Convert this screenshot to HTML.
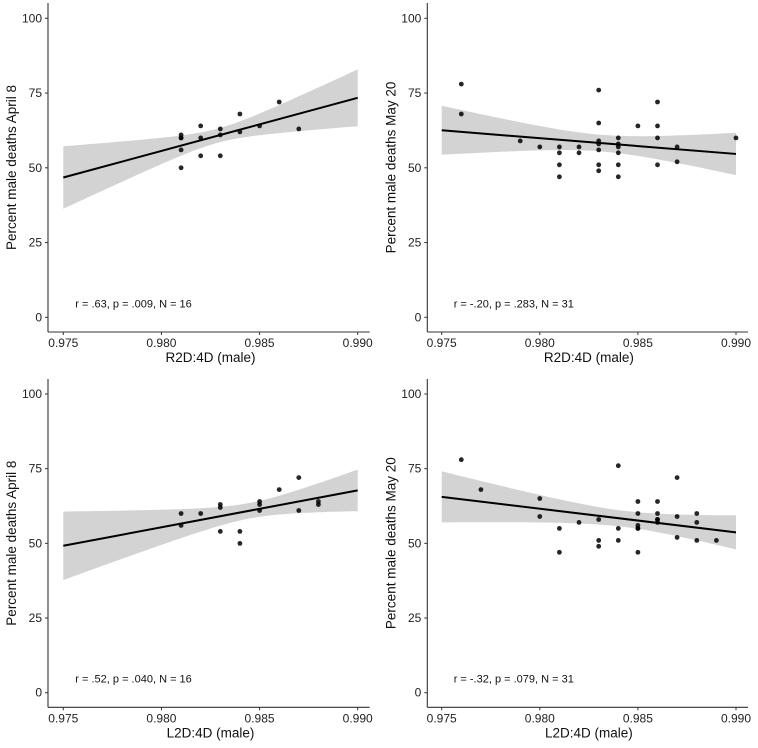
<!DOCTYPE html>
<html><head><meta charset="utf-8"><style>
html,body{margin:0;padding:0;background:#fff;}
svg{display:block;font-family:"Liberation Sans",Arial,sans-serif;}
</style></head><body>
<svg id="chart" width="758" height="748" viewBox="0 0 758 748"></svg>
<script>
const yTicks = [0, 25, 50, 75, 100];
const xTicks = [0.975, 0.980, 0.985, 0.990];
const xTickLabels = ["0.975", "0.980", "0.985", "0.990"];

const tlX = [0.981,0.981,0.981,0.981,0.982,0.982,0.982,0.983,0.983,0.983,0.984,0.984,0.985,0.986,0.987,0.981];
const tlY = [61,60,56,50,64,60,54,63,61,54,68,62,64,72,63,60];

const trX = [0.976,0.976,0.979,0.980,0.981,0.981,0.981,0.981,0.982,0.982,0.983,0.983,0.983,0.983,0.983,0.983,0.984,0.984,0.984,0.984,0.984,0.985,0.986,0.986,0.986,0.986,0.987,0.987,0.990,0.983,0.984];
const trY = [78,68,59,57,57,55,51,47,57,55,76,65,59,56,51,49,60,58,55,51,47,64,72,64,60,51,57,52,60,58,57];

const blX = [0.981,0.981,0.982,0.983,0.983,0.983,0.984,0.984,0.985,0.985,0.985,0.986,0.987,0.987,0.988,0.988];
const blY = [60,56,60,63,62,54,54,50,64,63,61,68,72,61,64,63];

const brX = [0.976,0.977,0.980,0.980,0.981,0.981,0.982,0.983,0.983,0.983,0.984,0.984,0.984,0.985,0.985,0.985,0.985,0.985,0.985,0.986,0.986,0.986,0.986,0.986,0.987,0.987,0.987,0.988,0.988,0.988,0.989];
const brY = [78,68,65,59,55,47,57,58,51,49,76,55,51,64,60,56,55,55,47,64,60,58,57,58,72,59,52,60,57,51,51];

const panels = [
  {name:"april8-right", xs:tlX, ys:tlY, axX:48, top:3, x0:63.3, x1:357.7, y100:18.3, y0:317.3, axisY:332, xt:"R2D:4D (male)", yt:"Percent male deaths April 8", ann:"r = .63, p = .009, N = 16", t:2.145},
  {name:"may20-right", xs:trX, ys:trY, axX:427.3, top:3, x0:441.7, x1:736, y100:18.3, y0:317.3, axisY:332, xt:"R2D:4D (male)", yt:"Percent male deaths May 20", ann:"r = -.20, p = .283, N = 31", t:2.045},
  {name:"april8-left", xs:blX, ys:blY, axX:48, top:379, x0:63.3, x1:357.7, y100:394, y0:692.7, axisY:707.3, xt:"L2D:4D (male)", yt:"Percent male deaths April 8", ann:"r = .52, p = .040, N = 16", t:2.145},
  {name:"may20-left", xs:brX, ys:brY, axX:427.3, top:379, x0:441.7, x1:736, y100:394, y0:692.7, axisY:707.3, xt:"L2D:4D (male)", yt:"Percent male deaths May 20", ann:"r = -.32, p = .079, N = 31", t:2.045}
];

const NS = "http://www.w3.org/2000/svg";
const svg = document.getElementById("chart");
function mk(tag, attrs, parent){
  const e = document.createElementNS(NS, tag);
  for (const k in attrs) e.setAttribute(k, attrs[k]);
  (parent||svg).appendChild(e);
  return e;
}

panels.forEach(p => {
  const g = mk("g", {});
  
  
  const sx = v => p.x0 + (v - 0.975) / 0.015 * (p.x1 - p.x0);
  const sy = v => p.y0 + v / 100 * (p.y100 - p.y0);

  const n = p.xs.length;
  const mx = p.xs.reduce((a,b)=>a+b,0)/n, my = p.ys.reduce((a,b)=>a+b,0)/n;
  let sxx=0, sxy=0;
  for (let i=0;i<n;i++){ sxx += (p.xs[i]-mx)**2; sxy += (p.xs[i]-mx)*(p.ys[i]-my); }
  const b = sxy/sxx, a = my - b*mx;
  let sse=0; for (let i=0;i<n;i++){ sse += (p.ys[i]-(a+b*p.xs[i]))**2; }
  const s = Math.sqrt(sse/(n-2));
  const up=[], lo=[];
  for (let k=0;k<=60;k++){
    const xv = 0.975 + 0.015*k/60;
    const f = a + b*xv;
    const se = s*Math.sqrt(1/n + (xv-mx)**2/sxx);
    up.push(sx(xv).toFixed(1)+","+sy(f+p.t*se).toFixed(1));
    lo.unshift(sx(xv).toFixed(1)+","+sy(f-p.t*se).toFixed(1));
  }
  const band = mk("polygon", {points: up.concat(lo).join(" "), fill:"#d3d3d3"}, g);
  
  

  for (let i=0;i<n;i++){
    const c = mk("circle", {cx:sx(p.xs[i]).toFixed(1), cy:sy(p.ys[i]).toFixed(1), r:2.4, fill:"#000", "fill-opacity":0.85}, g);
    
    
  }
  const ln = mk("line", {x1:sx(0.975), y1:sy(a+b*0.975), x2:sx(0.990), y2:sy(a+b*0.990), stroke:"#000", "stroke-width":2}, g);
  
  

  const ya = mk("line", {x1:p.axX, y1:p.top, x2:p.axX, y2:p.axisY, stroke:"#333", "stroke-width":1.1}, g);
  
  
  const xa = mk("line", {x1:p.axX, y1:p.axisY, x2:p.x1+12, y2:p.axisY, stroke:"#333", "stroke-width":1.1}, g);
  
  

  yTicks.forEach(v => {
    mk("line", {x1:p.axX-3, y1:sy(v), x2:p.axX, y2:sy(v), stroke:"#333"}, g);
    const t = mk("text", {x:p.axX-6, y:sy(v)+4, "text-anchor":"end", "font-size":12, fill:"#222"}, g);
    t.textContent = v;
    
    
  });
  xTicks.forEach((v,i) => {
    mk("line", {x1:sx(v), y1:p.axisY, x2:sx(v), y2:p.axisY+3, stroke:"#333"}, g);
    const t = mk("text", {x:sx(v), y:p.axisY+15, "text-anchor":"middle", "font-size":12, fill:"#222"}, g);
    t.textContent = xTickLabels[i];
    
    
  });
  const xt = mk("text", {x:(p.x0+p.x1)/2, y:p.axisY+30, "text-anchor":"middle", "font-size":13.5, fill:"#111"}, g);
  xt.textContent = p.xt;
  
  
  const cy = (p.top + p.axisY)/2;
  const cx = p.axX - 32;
  const yt = mk("text", {x:cx, y:cy, "text-anchor":"middle", "font-size":13.5, fill:"#111", transform:`rotate(-90 ${cx} ${cy})`}, g);
  yt.textContent = p.yt;
  
  
  const an = mk("text", {x:p.x0+12, y:sy(0)-10, "font-size":11, fill:"#111"}, g);
  an.textContent = p.ann;
  
  
});
</script>
</body></html>
